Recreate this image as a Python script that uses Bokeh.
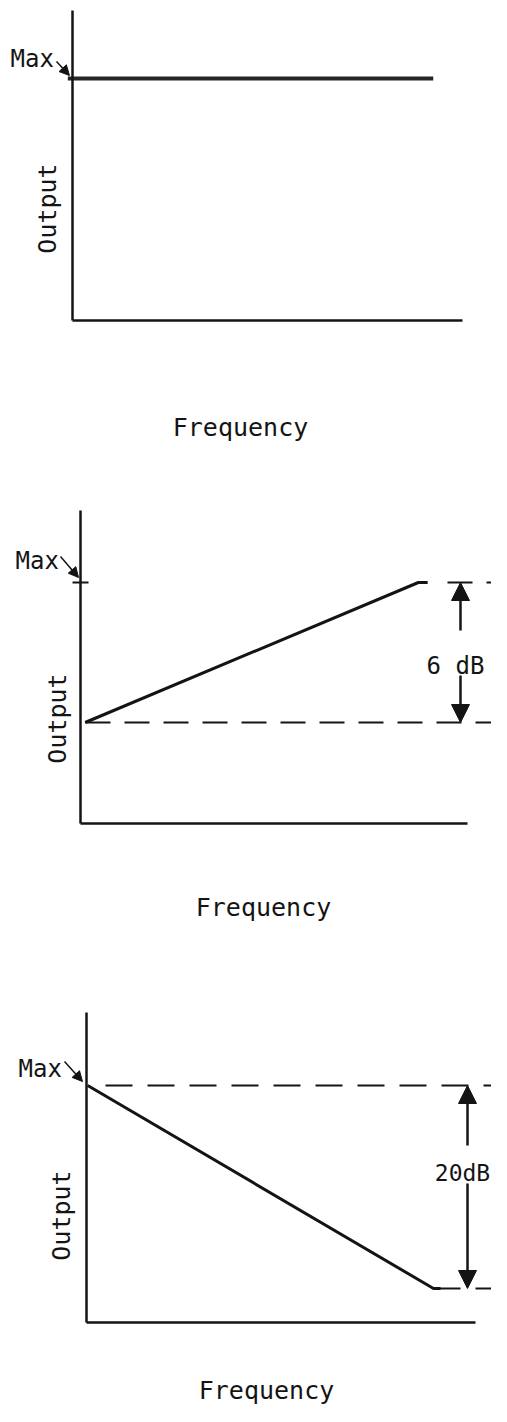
import numpy as np
from bokeh.plotting import figure
from bokeh.models import Range1d, LinearAxis, FixedTicker, Arrow, NormalHead, Label
from bokeh.layouts import column
from bokeh.embed import file_html
from bokeh.resources import INLINE

# ---------------- data ----------------
x_title = "Frequency"
y_title = "Output"
max_label = "Max"

# panel 1: flat response at Max
flat_freq = [-0.12, 9.25]
flat_out_db = [0.0, 0.0]

# panel 2: rising response, 6 dB span
rise_freq = [0.12, 8.73, 8.97]
rise_out_db = [-6.0, 0.0, 0.0]
rise_ref_db = [0.0, -6.0]
rise_label = "6 dB"

# panel 3: falling response, 20 dB span
fall_freq = [0.03, 8.92, 9.10]
fall_out_db = [0.0, -20.0, -20.0]
fall_ref_db = [0.0, -20.0]
fall_label = "20dB"

freq_axis = [0, 10]

# ---------------- layout (reference pixels) ----------------
INK = "#141414"
FONT = "DejaVu Sans Mono"
W = 491
LEFT, RIGHT = 0, 491

panels = [
    dict(top=0, h=460, fx0=72, fx1=462, ya_px=78, ya=0.0, yb_px=320, yb=-10.0,
         ax_y=320, ax_top=10, out=(47, 208), freq=(240, 427), mx=(10, 58),
         mx_arrow=((56, 61), (69, 75))),
    dict(top=460, h=470, fx0=80, fx1=467, ya_px=582, ya=0.0, yb_px=722, yb=-6.0,
         ax_y=823, ax_top=510, out=(57, 718), freq=(263, 907), mx=(15, 560),
         mx_arrow=((60, 556), (78, 577))),
    dict(top=930, h=476, fx0=86, fx1=475, ya_px=1085, ya=0.0, yb_px=1288, yb=-20.0,
         ax_y=1322, ax_top=1012, out=(61, 1215), freq=(266, 1390), mx=(18, 1068),
         mx_arrow=((64, 1061), (82, 1081))),
]


def fx(P, px):
    return freq_axis[0] + (px - P["fx0"]) * (freq_axis[1] - freq_axis[0]) / (P["fx1"] - P["fx0"])


def fy(P, py):
    return P["ya"] + (py - P["ya_px"]) * (P["yb"] - P["ya"]) / (P["yb_px"] - P["ya_px"])


def make_panel(P):
    p = figure(width=W, height=P["h"],
               x_range=Range1d(fx(P, LEFT), fx(P, RIGHT)),
               y_range=Range1d(fy(P, P["top"] + P["h"]), fy(P, P["top"])),
               toolbar_location=None, output_backend="svg",
               x_axis_type=None, y_axis_type=None, min_border=0)
    p.outline_line_color = None
    p.background_fill_color = "white"
    p.border_fill_color = "white"

    common = dict(ticker=FixedTicker(ticks=[]), minor_tick_line_color=None,
                  major_tick_line_color=None, major_label_text_font_size="0px",
                  axis_line_color=INK, axis_line_width=2.5)
    xa = LinearAxis(fixed_location=fy(P, P["ax_y"]), bounds=(freq_axis[0], freq_axis[1]), **common)
    ya = LinearAxis(fixed_location=freq_axis[0], bounds=(fy(P, P["ax_y"]), fy(P, P["ax_top"])), **common)
    p.add_layout(xa, "below")
    p.add_layout(ya, "left")

    # text labels
    p.add_layout(Label(x=fx(P, P["out"][0]), y=fy(P, P["out"][1]), text=y_title,
                       angle=np.pi / 2, text_align="center", text_baseline="middle",
                       text_font=FONT, text_font_size="25px", text_color=INK))
    p.add_layout(Label(x=fx(P, P["freq"][0]), y=fy(P, P["freq"][1]), text=x_title,
                       text_align="center", text_baseline="alphabetic",
                       text_font=FONT, text_font_size="25px", text_color=INK))
    p.add_layout(Label(x=fx(P, P["mx"][0]), y=fy(P, P["mx"][1]), text=max_label,
                       text_align="left", text_baseline="alphabetic",
                       text_font=FONT, text_font_size="24px", text_color=INK))
    (sx, sy), (ex, ey) = P["mx_arrow"]
    p.add_layout(Arrow(end=NormalHead(size=10, fill_color=INK, line_color=INK, line_width=1),
                       x_start=fx(P, sx), y_start=fy(P, sy), x_end=fx(P, ex), y_end=fy(P, ey),
                       line_color=INK, line_width=1.5))
    return p


def span_arrows(p, P, xpx, top_db, bot_db, gap_top_px, gap_bot_px, label, label_px, size):
    x = fx(P, xpx)
    head = dict(size=size, fill_color=INK, line_color=INK, line_width=1)
    p.add_layout(Arrow(end=NormalHead(**head), x_start=x, y_start=fy(P, gap_top_px),
                       x_end=x, y_end=top_db, line_color=INK, line_width=2.5))
    p.add_layout(Arrow(end=NormalHead(**head), x_start=x, y_start=fy(P, gap_bot_px),
                       x_end=x, y_end=bot_db, line_color=INK, line_width=2.5))
    p.add_layout(Label(x=fx(P, label_px[0]), y=fy(P, label_px[1]), text=label,
                       text_align="center", text_baseline="alphabetic",
                       text_font=FONT, text_font_size=label_px[2], text_color=INK))


# panel 1
P = panels[0]
p1 = make_panel(P)
p1.line(flat_freq, flat_out_db, line_color="#262626", line_width=4)

# panel 2
P = panels[1]
p2 = make_panel(P)
p2.line(rise_freq, rise_out_db, line_color=INK, line_width=3)
p2.segment(x0=[fx(P, 72)], y0=[rise_ref_db[0]], x1=[fx(P, 88)], y1=[rise_ref_db[0]],
           line_color=INK, line_width=2)
p2.segment(x0=[fx(P, 447), fx(P, 85)], y0=rise_ref_db, x1=[fx(P, 505), fx(P, 505)], y1=rise_ref_db,
           line_color=INK, line_width=2, line_dash="25 14")
span_arrows(p2, P, 460, rise_ref_db[0], rise_ref_db[1], 630, 675, rise_label, (455, 665, "24px"), 18)

# panel 3
P = panels[2]
p3 = make_panel(P)
p3.line(fall_freq, fall_out_db, line_color=INK, line_width=3)
p3.segment(x0=[fx(P, 105), fx(P, 433)], y0=fall_ref_db, x1=[fx(P, 510), fx(P, 510)], y1=fall_ref_db,
           line_color=INK, line_width=2, line_dash="27 15")
span_arrows(p3, P, 467, fall_ref_db[0], fall_ref_db[1], 1145, 1183, fall_label, (462, 1172, "23px"), 18)

layout = column(p1, p2, p3, spacing=0)
open("out.html", "w").write(file_html(layout, INLINE))
